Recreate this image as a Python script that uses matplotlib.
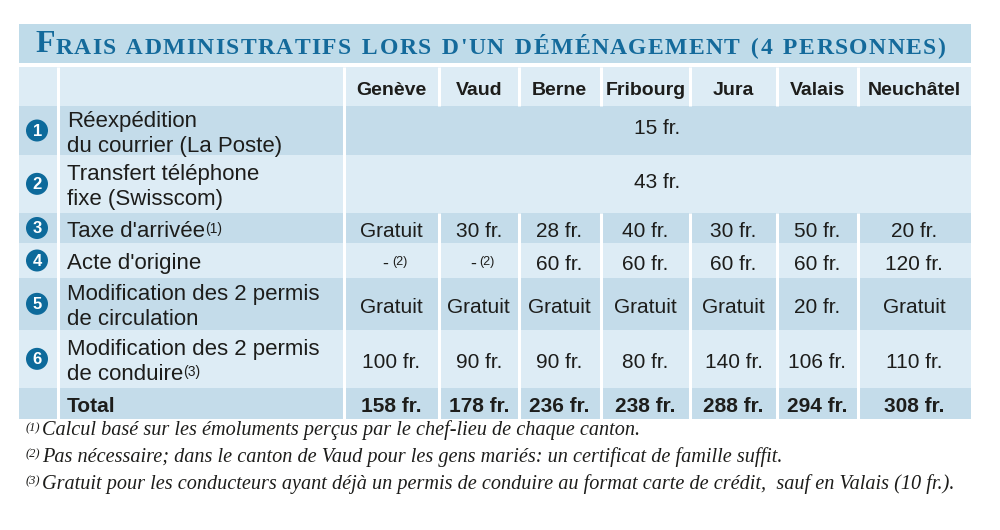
import matplotlib
matplotlib.use("Agg")
import matplotlib.pyplot as plt
from matplotlib.patches import Rectangle, Circle

# ---- data ----
cantons = ["Genève", "Vaud", "Berne", "Fribourg", "Jura", "Valais", "Neuchâtel"]
row_labels = ["Réexpédition\ndu courrier (La Poste)",
              "Transfert téléphone\nfixe (Swisscom)",
              "Taxe d'arrivée",
              "Acte d'origine",
              "Modification des 2 permis\nde circulation",
              "Modification des 2 permis\nde conduire"]
row_notes = ["", "", "(1)", "", "", "(3)"]
# rows 1-2: one price for every canton (merged cells)
common_costs = [15, 43]
# rows 3-6: 0 = "Gratuit", None = "-(2)" (not needed)
taxe_arrivee = [0, 30, 28, 40, 30, 50, 20]
acte_origine = [None, None, 60, 60, 60, 60, 120]
permis_circulation = [0, 0, 0, 0, 0, 20, 0]
permis_conduire = [100, 90, 90, 80, 140, 106, 110]
canton_rows = [taxe_arrivee, acte_origine, permis_circulation, permis_conduire]
totals = [sum(common_costs) + sum((r[i] or 0) for r in canton_rows) for i in range(len(cantons))]

title_first = "F"
title_rest = "RAIS ADMINISTRATIFS LORS D'UN DÉMÉNAGEMENT (4 PERSONNES)"
footnotes = [("(1)", "Calcul basé sur les émoluments perçus par le chef-lieu de chaque canton."),
             ("(2)", "Pas nécessaire; dans le canton de Vaud pour les gens mariés: un certificat de famille suffit."),
             ("(3)", "Gratuit pour les conducteurs ayant déjà un permis de conduire au format carte de crédit,  sauf en Valais (10 fr.).")]

# ---- layout (pixels) ----
DARK = "#c4dcea"
LIGHT = "#ddecf5"
BLUE = "#146a9b"
INK = "#1d1d1b"
SANS = "Liberation Sans"
SERIF = "Liberation Serif"

x_left, x_right = 18.5, 971
col_edges = [x_left, 58.3, 343.7, 439.2, 518.5, 600.5, 690.3, 777, 857.7, x_right]
row_edges = [66.7, 106, 155, 212.7, 243.3, 277.7, 330, 387.7, 419]
SEP = 2.2  # white gap width in points

fig = plt.figure(figsize=(10, 5.3), dpi=100)
ax = fig.add_axes([0, 0, 1, 1])
ax.set_xlim(0, 1000)
ax.set_ylim(530, 0)
ax.axis("off")

# title band, small caps with a little letter spacing
ax.add_patch(Rectangle((19.3, 24), x_right - 19.3, 39.3, color="#bfdbe9", lw=0))
prev = ax.text(35, 52.5, title_first, fontsize=23, fontfamily=SERIF, fontweight="bold",
               color=BLUE, va="baseline", ha="left")
track = 1.0
word_gap = 2.8
chunks = []
for word_i, word in enumerate(title_rest.split(" ")):
    for k, ch in enumerate(word):
        chunks.append((ch, k == 0 and word_i > 0))
for k, (ch, new_word) in enumerate(chunks):
    dx = 0.8 if k == 0 else track + (word_gap if new_word else 0)
    prev = ax.annotate((" " + ch) if new_word else ch, xy=(1, 0), xycoords=prev,
                       xytext=(dx, 0), textcoords="offset points",
                       fontsize=17, fontfamily=SERIF, fontweight="bold", color=BLUE,
                       va="bottom", ha="left")

# row backgrounds
n_rows = len(row_edges) - 1
for i in range(n_rows):
    y0, y1 = row_edges[i], row_edges[i + 1]
    ax.add_patch(Rectangle((x_left, y0), x_right - x_left, y1 - y0,
                           color=LIGHT if i % 2 == 0 else DARK, lw=0))

# vertical white separators
y_top, y_bot = row_edges[0], row_edges[-1]
for x in col_edges[1:3]:
    ax.plot([x, x], [y_top, y_bot], color="white", lw=SEP, solid_capstyle="butt")
for x in col_edges[3:-1]:
    ax.plot([x, x], [y_top, row_edges[1]], color="white", lw=SEP, solid_capstyle="butt")
    ax.plot([x, x], [row_edges[3], y_bot], color="white", lw=SEP, solid_capstyle="butt")

centers_x = [(col_edges[j] + col_edges[j + 1]) / 2 for j in range(2, len(col_edges) - 1)]
centers_y = [(row_edges[i] + row_edges[i + 1]) / 2 for i in range(n_rows)]
BASE = 9  # baseline offset below row centre


def sup(anchor, s, size=9, dx=0.0, family=SANS):
    ax.annotate(s, xy=(1, 1), xycoords=anchor, xytext=(dx, -0.5), textcoords="offset points",
                fontsize=size, fontfamily=family, color=INK, va="top", ha="left")


def fmt(v):
    if v == 0:
        return "Gratuit"
    return f"{v} fr."


# header
for cx, name in zip(centers_x, cantons):
    ax.text(cx, centers_y[0] + BASE, name, fontsize=14, fontfamily=SANS, fontweight="bold",
            color=INK, ha="center", va="baseline")

# body rows
for i, (label, note) in enumerate(zip(row_labels, row_notes)):
    cy = centers_y[i + 1]
    # numbered circle
    ax.add_patch(Circle((37, cy), 11, color="#0d6a9b", lw=0))
    ax.text(37.3, cy + 0.5, str(i + 1), fontsize=12, fontfamily=SANS, fontweight="bold",
            color="white", ha="center", va="center")
    lines = label.split("\n")
    n = len(lines)
    last = None
    for k, line in enumerate(lines):
        yb = cy + BASE + (k - (n - 1) / 2) * 25
        last = ax.text(67, yb, line, fontsize=16, fontfamily=SANS, color=INK,
                       ha="left", va="baseline")
    if note:
        sup(last, note, size=10)

    if i < len(common_costs):
        mid = (col_edges[2] + col_edges[-1]) / 2
        ax.text(mid, cy + BASE - 5, fmt(common_costs[i]), fontsize=15, fontfamily=SANS,
                color=INK, ha="center", va="baseline")
        continue
    values = canton_rows[i - len(common_costs)]
    for cx, v in zip(centers_x, values):
        if v is None:
            d = ax.text(cx - 9, cy + BASE - 1, "-", fontsize=13, fontfamily=SANS,
                        color=INK, ha="left", va="baseline")
            sup(d, "(2)", size=9, dx=2.5)
        else:
            ax.text(cx, cy + BASE, fmt(v), fontsize=15, fontfamily=SANS, color=INK,
                    ha="center", va="baseline")

# total row
cy = centers_y[-1]
ax.text(67, cy + BASE, "Total", fontsize=15, fontfamily=SANS, fontweight="bold",
        color=INK, ha="left", va="baseline")
for cx, v in zip(centers_x, totals):
    ax.text(cx, cy + BASE, fmt(v), fontsize=15, fontfamily=SANS, fontweight="bold",
            color=INK, ha="center", va="baseline")

# footnotes
for k, (mark, txt) in enumerate(footnotes):
    yb = 435.5 + k * 26.7
    ax.text(26, yb - 13.5, mark, fontsize=9, fontfamily=SERIF, fontstyle="italic",
            color=INK, ha="left", va="top")
    ax.text(42, yb, txt, fontsize=14.6, fontfamily=SERIF, fontstyle="italic", color=INK,
            ha="left", va="baseline")

fig.savefig("out.png", dpi=100, facecolor="white")
